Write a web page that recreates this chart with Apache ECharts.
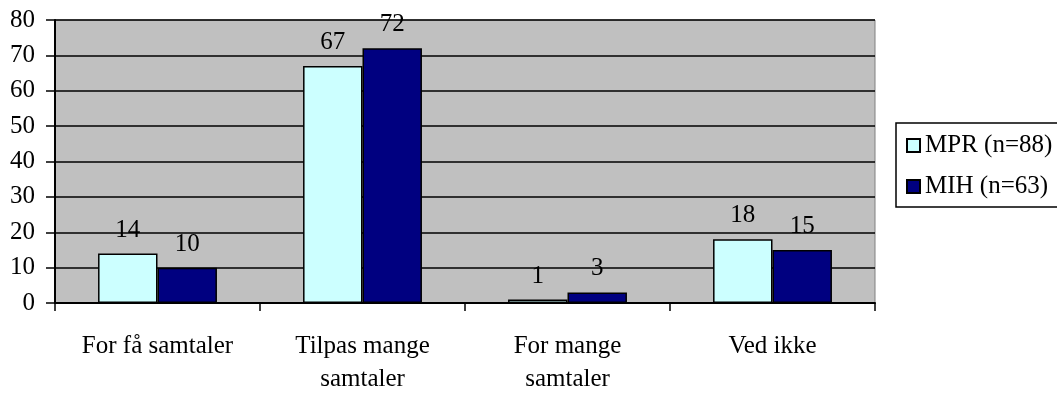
<!DOCTYPE html>
<html>
<head>
<meta charset="utf-8">
<script src="https://cdn.jsdelivr.net/npm/echarts@6/dist/echarts.min.js"></script>
<style>
  html, body { margin: 0; padding: 0; background: #fff; }
  #chart { width: 1057px; height: 396px; }
</style>
</head>
<body>
<div id="chart"></div>
<script>
// samtaler - MPR vs MIH, søjlediagram
var categories = ['For få samtaler', 'Tilpas mange\nsamtaler', 'For mange\nsamtaler', 'Ved ikke'];
var seriesNames = ['MPR (n=88)', 'MIH (n=63)'];
var mprValues = [14, 67, 1, 18];
var mihValues = [10, 72, 3, 15];
var yTicks = { min: 0, max: 80, interval: 10 };

var font = "'Liberation Serif', 'Times New Roman', serif";
var fontSize = 25;
var colors = ['#CCFFFF', '#000080'];

var myChart = echarts.init(document.getElementById('chart'));

var labelStyle = {
    show: true,
    position: 'top',
    distance: 11,
    color: '#000',
    fontFamily: font,
    fontSize: fontSize
};

var option = {
    animation: false,
    textStyle: { fontFamily: font },
    grid: {
        left: 55,
        right: 182,
        top: 20,
        bottom: 88,
        show: true,
        backgroundColor: '#C0C0C0',
        borderColor: '#808080',
        borderWidth: 1
    },
    legend: {
        orient: 'vertical',
        left: 896,
        top: 123,
        // right border of the box falls outside the picture, like the original
        padding: [10, 16, 8, 10],
        itemGap: 16,
        itemWidth: 13,
        itemHeight: 13,
        itemTextGap: 8,
        icon: 'rect',
        borderColor: '#000',
        borderWidth: 1.5,
        backgroundColor: '#fff',
        textStyle: {
            color: '#000',
            fontFamily: font,
            fontSize: fontSize,
            lineHeight: 25
        },
        data: seriesNames
    },
    xAxis: {
        type: 'category',
        data: categories,
        boundaryGap: true,
        axisLine: { lineStyle: { color: '#000', width: 2 } },
        axisTick: { show: true, length: 8, lineStyle: { color: '#000', width: 1.5 } },
        axisLabel: {
            color: '#000',
            fontFamily: font,
            fontSize: fontSize,
            lineHeight: 33,
            margin: 27,
            interval: 0
        },
        splitLine: { show: false }
    },
    yAxis: {
        type: 'value',
        min: yTicks.min,
        max: yTicks.max,
        interval: yTicks.interval,
        axisLine: { show: true, lineStyle: { color: '#000', width: 2 } },
        axisTick: { show: true, length: 9, lineStyle: { color: '#000', width: 1.5 } },
        axisLabel: {
            color: '#000',
            fontFamily: font,
            fontSize: fontSize,
            margin: 20
        },
        splitLine: { show: true, lineStyle: { color: '#000', width: 1.5 } }
    },
    series: [
        {
            name: seriesNames[0],
            type: 'bar',
            barWidth: '29%',
            barGap: '0%',
            itemStyle: { color: colors[0], borderColor: '#000', borderWidth: 1.5 },
            label: labelStyle,
            data: mprValues
        },
        {
            name: seriesNames[1],
            type: 'bar',
            barWidth: '29%',
            barGap: '0%',
            itemStyle: { color: colors[1], borderColor: '#000', borderWidth: 1.5 },
            label: labelStyle,
            data: mihValues
        }
    ]
};

myChart.setOption(option);
</script>
</body>
</html>
